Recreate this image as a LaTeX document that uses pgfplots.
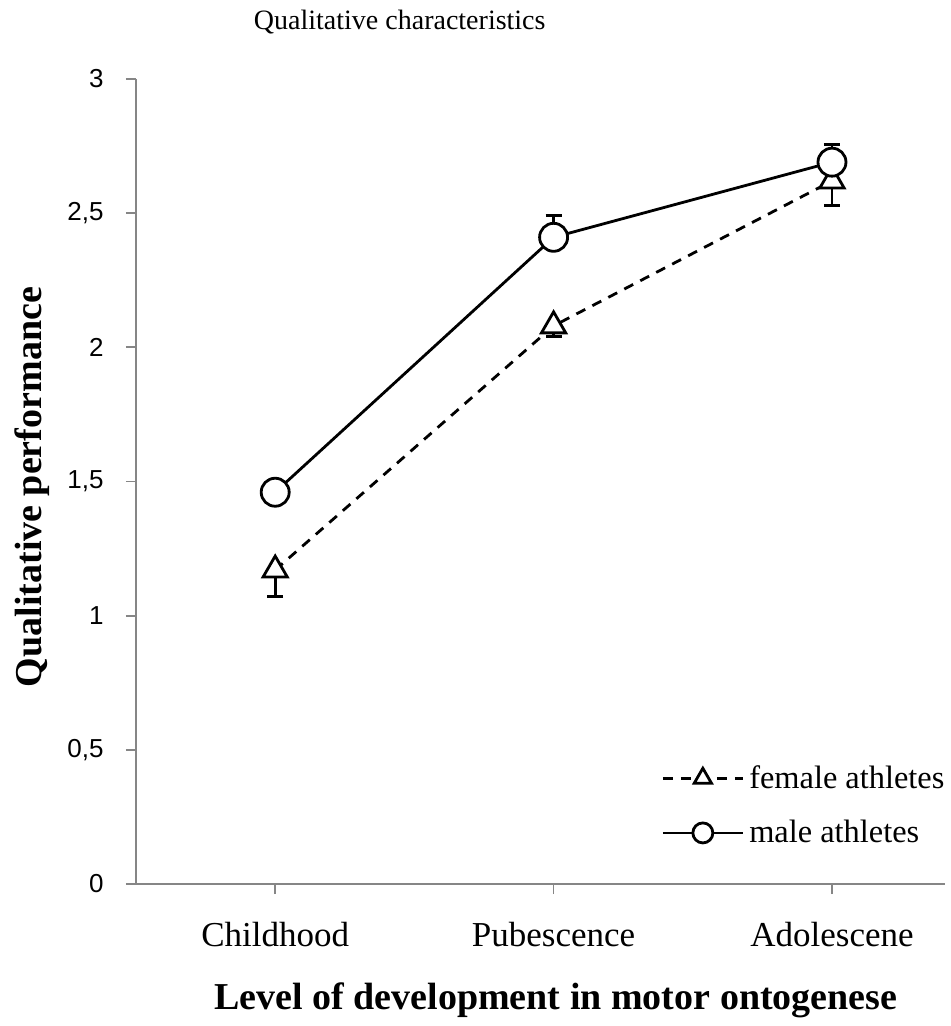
\documentclass[border=0pt]{standalone}
\usepackage{pgfplots}
\pgfplotsset{compat=1.18}
\usepackage{fontspec}
\setmainfont{Liberation Serif}
\newfontfamily\tickfont{Liberation Sans}
\definecolor{axgray}{HTML}{868686}
\begin{document}
\begin{tikzpicture}
\useasboundingbox (-68pt,-71pt) rectangle (407pt,442pt);
\begin{axis}[
  at={(0pt,0pt)}, anchor=south west,
  scale only axis, width=404.5pt, height=402.5pt,
  xmin=-0.5, xmax=2.406, ymin=0, ymax=3,
  axis x line*=bottom, axis y line*=left,
  tick pos=left, tick align=outside,
  axis line style={axgray, line width=0.9pt},
  major tick style={axgray, line width=0.9pt},
  major tick length=5pt,
  xtick={0,1,2}, xticklabels={Childhood,Pubescence,Adolescene},
  ytick={0,0.5,1,1.5,2,2.5,3},
  yticklabels={0,{0,5},1,{1,5},2,{2,5},3},
  xticklabel style={font=\fontsize{17.5}{20}\selectfont, inner sep=0pt, yshift=-14pt},
  yticklabel style={font=\tickfont\fontsize{13}{15}\selectfont, inner sep=0pt, xshift=-11pt},
  title={Qualitative characteristics},
  title style={font=\fontsize{14}{16}\selectfont, at={(axis description cs:0.326,1.056)}, anchor=center},
  xlabel={Level of development in motor ontogenese},
  xlabel style={font=\bfseries\fontsize{19}{22}\selectfont, at={(axis description cs:0.519,-0.144)}, anchor=center},
  ylabel={Qualitative performance},
  ylabel style={font=\bfseries\fontsize{19}{22}\selectfont, at={(axis description cs:-0.1286,0.493)}, anchor=center},
  legend style={draw=none, fill=none, at={(axis description cs:0.649,0.0975)}, anchor=west,
    font=\fontsize{16.2}{18}\selectfont, row sep=12.5pt, inner sep=0pt,
    nodes={inner sep=1pt}},
  legend cell align=left,
  legend image code/.code={\draw[mark repeat=2,mark phase=2,#1,mark size=5pt] plot coordinates {(0pt,0pt)(20pt,0pt)(40pt,0pt)};},
]
\addplot[black, line width=1.4pt, dash pattern=on 5pt off 4pt,
  mark=triangle*, mark size=7pt, mark options={solid, fill=white},
  error bars/.cd, y dir=minus, y explicit, error mark=-,
  error bar style={solid, line width=1.4pt},
  error mark options={solid, rotate=90, mark size=4pt, line width=1.4pt}]
  coordinates {(0,1.17) -= (0,0.10) (1,2.08) -= (0,0.04) (2,2.62) -= (0,0.09)};
\addlegendentry{\hspace{1.5pt}female athletes}
\addplot[black, line width=1.4pt,
  mark=*, mark size=7pt, mark options={solid, fill=white},
  error bars/.cd, y dir=plus, y explicit, error mark=-,
  error bar style={solid, line width=1.4pt},
  error mark options={solid, rotate=90, mark size=4pt, line width=1.4pt}]
  coordinates {(0,1.46) += (0,0.045) (1,2.41) += (0,0.08) (2,2.69) += (0,0.065)};
\addlegendentry{\hspace{1.5pt}male athletes}
\end{axis}
\end{tikzpicture}
\end{document}
